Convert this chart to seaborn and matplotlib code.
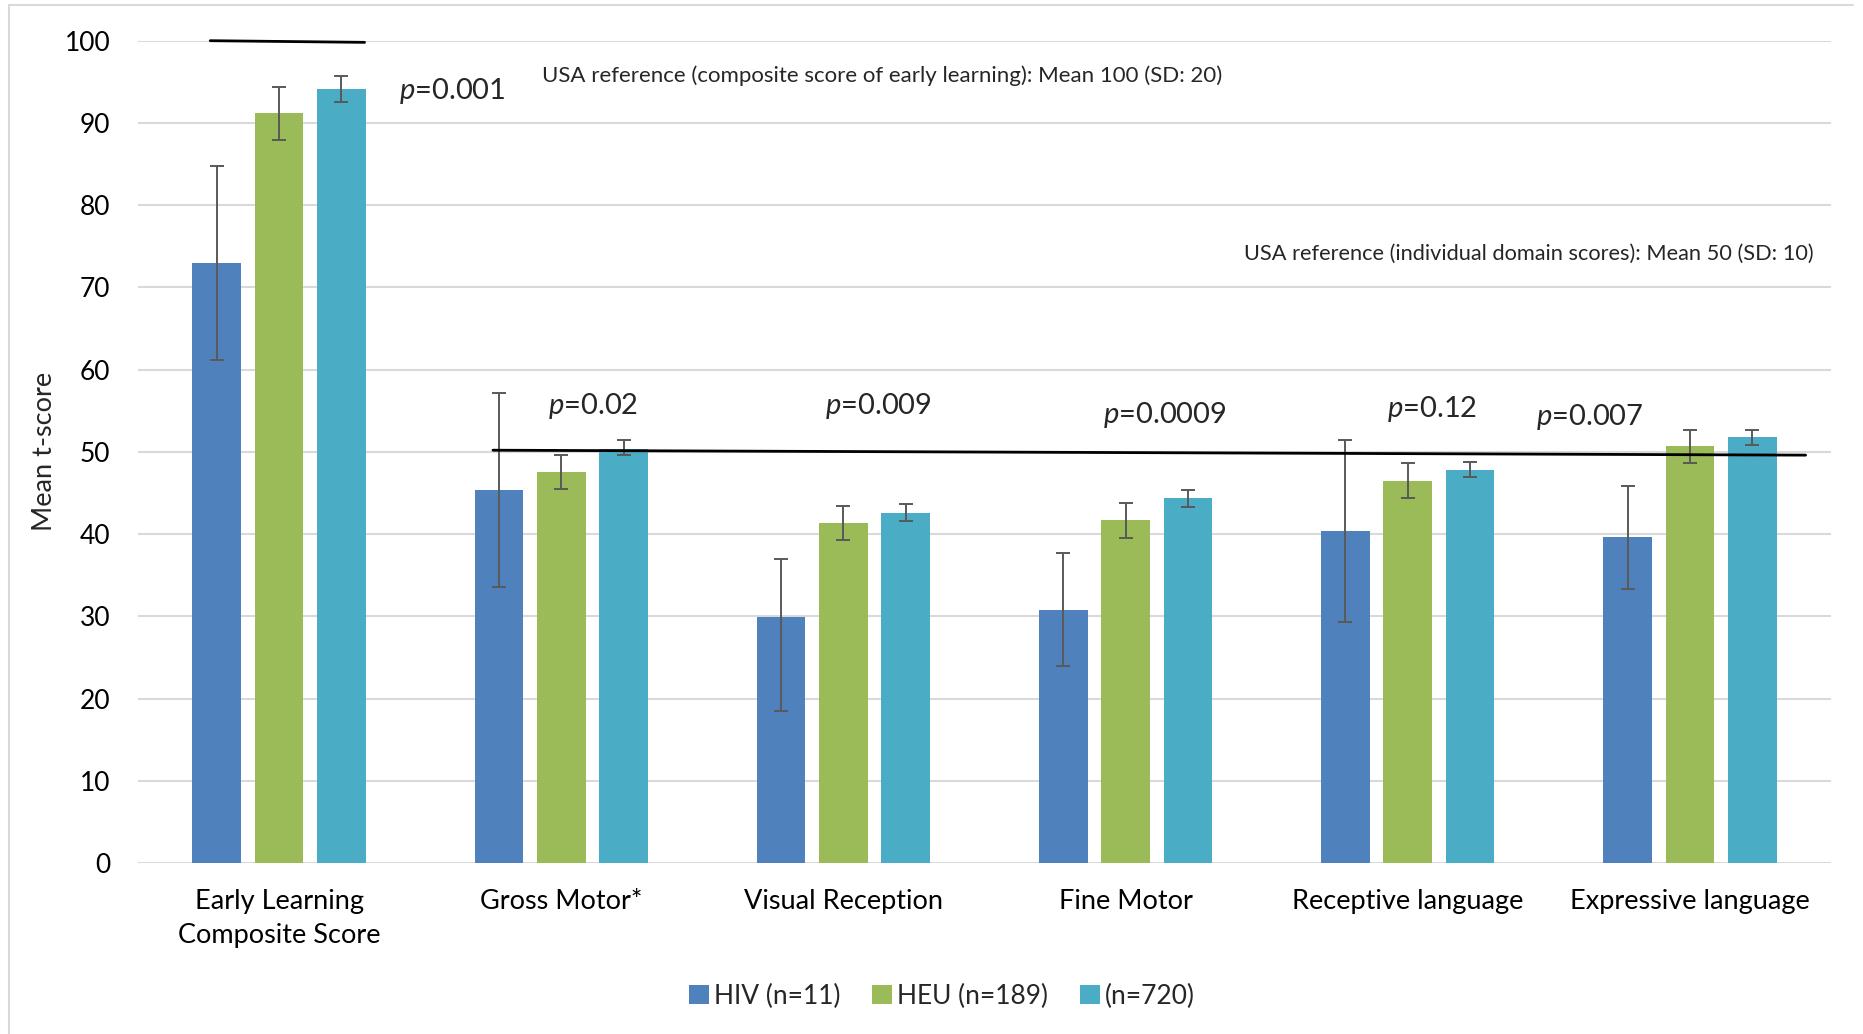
import numpy as np
import pandas as pd
import matplotlib
matplotlib.use("Agg")
import matplotlib.pyplot as plt
from matplotlib.lines import Line2D
import seaborn as sns

# Bayley-style domain scores by group
domains = ["Early Learning\nComposite Score", "Gross Motor*", "Visual Reception",
           "Fine Motor", "Receptive language", "Expressive language"]
groups = ["HIV (n=11)", "HEU (n=189)", "(n=720)"]

hiv_mean = [73.0, 45.4, 29.9, 30.8, 40.4, 39.6]
hiv_low = [61.2, 33.6, 18.5, 23.9, 29.3, 33.3]
hiv_high = [84.8, 57.1, 37.0, 37.7, 51.4, 45.8]

heu_mean = [91.2, 47.6, 41.3, 41.7, 46.5, 50.7]
heu_low = [87.9, 45.5, 39.3, 39.5, 44.4, 48.6]
heu_high = [94.4, 49.6, 43.4, 43.8, 48.6, 52.7]

ref_mean = [94.1, 50.4, 42.6, 44.4, 47.8, 51.8]
ref_low = [92.6, 49.6, 41.6, 43.3, 46.9, 50.8]
ref_high = [95.7, 51.5, 43.7, 45.4, 48.8, 52.7]

p_values = ["0.001", "0.02", "0.009", "0.0009", "0.12", "0.007"]

composite_ref = 100
domain_ref = 50
composite_note = "USA reference (composite score of early learning): Mean 100 (SD: 20)"
domain_note = "USA reference (individual domain scores): Mean 50 (SD: 10)"

colors = ["#4F81BD", "#9BBB59", "#4BACC6"]

df = pd.DataFrame({
    "domain": domains * 3,
    "group": np.repeat(groups, len(domains)),
    "score": hiv_mean + heu_mean + ref_mean,
})

sns.set_theme(style="white")
plt.rcParams["font.family"] = ["Lato", "DejaVu Sans"]
plt.rcParams["mathtext.fontset"] = "custom"
plt.rcParams["mathtext.rm"] = "Lato"
plt.rcParams["mathtext.it"] = "Lato:italic"

fig = plt.figure(figsize=(18.63, 10.34), dpi=100)
ax = fig.add_axes([138 / 1863, 1 - 863 / 1034, (1831 - 138) / 1863, (863 - 40.7) / 1034])

sns.barplot(data=df, x="domain", y="score", hue="group", order=domains,
            hue_order=groups, palette=colors, width=0.663, gap=0.22,
            errorbar=None, saturation=1, linewidth=0, ax=ax, zorder=2)

# confidence intervals on each bar
lows = [hiv_low, heu_low, ref_low]
highs = [hiv_high, heu_high, ref_high]
means = [hiv_mean, heu_mean, ref_mean]
for cont, m, lo, hi in zip(ax.containers, means, lows, highs):
    xs = [p.get_x() + p.get_width() / 2 for p in cont.patches]
    m = np.array(m)
    yerr = [m - np.array(lo), np.array(hi) - m]
    ax.errorbar(xs, m, yerr=yerr, fmt="none", ecolor="#595959",
                elinewidth=1.4, capsize=5, capthick=1.4, zorder=3)

ax.set_xlim(-0.5, 5.5)
ax.set_ylim(0, 100)
ax.set_yticks(np.arange(0, 101, 10))
ax.yaxis.grid(True, color="#D9D9D9", linewidth=1.5, zorder=0)
ax.set_axisbelow(True)
for s in ax.spines.values():
    s.set_visible(False)
ax.tick_params(axis="both", length=0, colors="black")
ax.tick_params(axis="y", pad=20, labelsize=19)
ax.tick_params(axis="x", pad=19, labelsize=19.5)
for lbl in ax.get_xticklabels():
    lbl.set_linespacing(1.45)
ax.set_xlabel("")
ax.set_ylabel("Mean t-score", fontsize=19.5)
ax.yaxis.set_label_coords(-0.048, 0.5)

# reference means
ax.plot([-0.244, 0.303], [composite_ref, composite_ref - 0.2], color="black",
        lw=2, clip_on=False, zorder=4)
ax.plot([0.758, 5.41], [domain_ref + 0.2, domain_ref - 0.4], color="black",
        lw=2, clip_on=False, zorder=4)

ax.text(2.138, 95.7, composite_note, ha="center", va="center", fontsize=16)
ax.text(4.428, 74.1, domain_note, ha="center", va="center", fontsize=15.7)

p_x = [0.614, 1.112, 2.123, 3.14, 4.088, 4.646]
p_y = [93.9, 55.6, 55.6, 54.5, 55.2, 54.2]
for x, y, p in zip(p_x, p_y, p_values):
    ax.text(x, y, "$p$=" + p, ha="center", va="center", fontsize=21)

handles, labels = ax.get_legend_handles_labels()
ax.get_legend().remove()
fig.legend(handles, labels, loc="center", bbox_to_anchor=(942 / 1863, 1 - 996 / 1034),
           ncol=3, frameon=False, fontsize=19, handlelength=0.75, handleheight=0.75,
           handletextpad=0.2, columnspacing=1.2)

# light frame around the figure
fx = 9 / 1863
fy = 1 - 5 / 1034
fig.add_artist(Line2D([fx, fx], [0, fy], transform=fig.transFigure,
                      color="#D9D9D9", lw=1.5))
fig.add_artist(Line2D([fx, 1853 / 1863], [fy, fy], transform=fig.transFigure,
                      color="#D9D9D9", lw=1.5))

fig.savefig("out.png", dpi=100, facecolor="white")
